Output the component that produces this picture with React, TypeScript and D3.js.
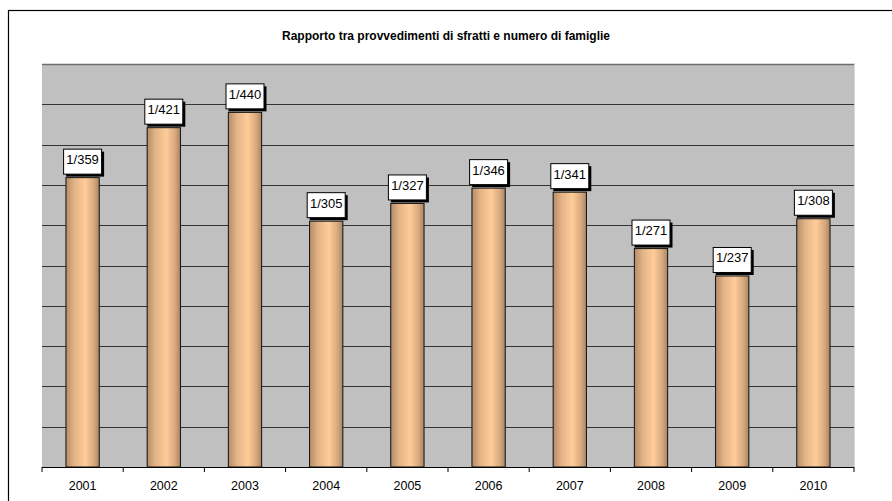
import React from "react";
import * as d3 from "d3";

// Ratio of eviction orders to households, 2001–2010 (one order every N households)
const years = ["2001", "2002", "2003", "2004", "2005", "2006", "2007", "2008", "2009", "2010"];
const households = [359, 421, 440, 305, 327, 346, 341, 271, 237, 308];
const gridValues = [50, 100, 150, 200, 250, 300, 350, 400, 450];
const title = "Rapporto tra provvedimenti di sfratti e numero di famiglie";

const W = 892;
const H = 501;
const plot = { left: 42, right: 854, top: 64, bottom: 467 };
const FONT = "Arial, 'Liberation Sans', sans-serif";

export default function App() {
  const x = d3
    .scaleBand<string>()
    .domain(years)
    .range([plot.left, plot.right])
    .paddingInner(0.59)
    .paddingOuter(0.295);
  const y = d3.scaleLinear().domain([0, 500]).range([plot.bottom, plot.top]);
  const step = x.step();
  const tickXs = d3.range(years.length + 1).map((i) => plot.left + i * step);

  const boxW = 38;
  const boxH = 25;

  return (
    <div style={{ position: "fixed", left: 0, top: 0 }}>
      <svg width={W} height={H} style={{ display: "block", background: "#fff" }}>
        <defs>
          <linearGradient id="barShade" x1="0" x2="1" y1="0" y2="0">
            <stop offset="0%" stopColor="#b48c68" />
            <stop offset="25%" stopColor="#e2b386" />
            <stop offset="58%" stopColor="#ffcc99" />
            <stop offset="85%" stopColor="#d4a77c" />
            <stop offset="100%" stopColor="#a88462" />
          </linearGradient>
        </defs>

        {/* chart frame */}
        <rect x={8.5} y={10.5} width={W + 20} height={H + 20} fill="#fff" stroke="#000" strokeWidth={1.2} />

        <text x={446} y={40} textAnchor="middle" fontFamily={FONT} fontSize={12} fontWeight="bold" fill="#000">
          {title}
        </text>

        {/* plot area */}
        <rect x={plot.left} y={plot.top} width={plot.right - plot.left} height={plot.bottom - plot.top} fill="#c0c0c0" />
        <line x1={plot.left} x2={plot.right + 1} y1={plot.top + 0.5} y2={plot.top + 0.5} stroke="#6e6e6e" strokeWidth={1.5} />
        <line x1={plot.right + 0.5} x2={plot.right + 0.5} y1={plot.top} y2={plot.bottom} stroke="#d8d8d8" strokeWidth={1} />

        {gridValues.map((v) => (
          <line
            key={v}
            x1={plot.left}
            x2={plot.right}
            y1={Math.round(y(v)) + 0.5}
            y2={Math.round(y(v)) + 0.5}
            stroke="#333"
            strokeWidth={1}
          />
        ))}

        {/* bars */}
        {years.map((yr, i) => {
          const v = households[i];
          const bx = x(yr)!;
          return (
            <rect
              key={yr}
              x={bx}
              y={y(v)}
              width={x.bandwidth()}
              height={plot.bottom - y(v)}
              fill="url(#barShade)"
              stroke="#111"
              strokeWidth={1}
            />
          );
        })}

        {/* category axis */}
        <line x1={plot.left} x2={plot.right} y1={plot.bottom + 0.5} y2={plot.bottom + 0.5} stroke="#000" strokeWidth={1} />
        {tickXs.map((tx, i) => (
          <line key={i} x1={tx} x2={tx} y1={plot.bottom} y2={plot.bottom + 5} stroke="#000" strokeWidth={1} />
        ))}
        {years.map((yr) => (
          <text
            key={yr}
            x={x(yr)! + x.bandwidth() / 2}
            y={490}
            textAnchor="middle"
            fontFamily={FONT}
            fontSize={12.5}
            fill="#000"
          >
            {yr}
          </text>
        ))}

        {/* value labels */}
        {years.map((yr, i) => {
          const v = households[i];
          const cx = x(yr)! + x.bandwidth() / 2 - 0.5;
          const bottom = y(v) - 4;
          const bx = cx - boxW / 2;
          const by = bottom - boxH;
          return (
            <g key={yr}>
              <rect x={bx + 3} y={by + 3} width={boxW} height={boxH} fill="#000" />
              <rect x={bx + 0.5} y={by + 0.5} width={boxW} height={boxH} fill="#fff" stroke="#000" strokeWidth={1} />
              <text x={cx + 0.5} y={by + 15.5} textAnchor="middle" fontFamily={FONT} fontSize={13} fill="#000">
                {`1/${v}`}
              </text>
            </g>
          );
        })}
      </svg>
    </div>
  );
}
